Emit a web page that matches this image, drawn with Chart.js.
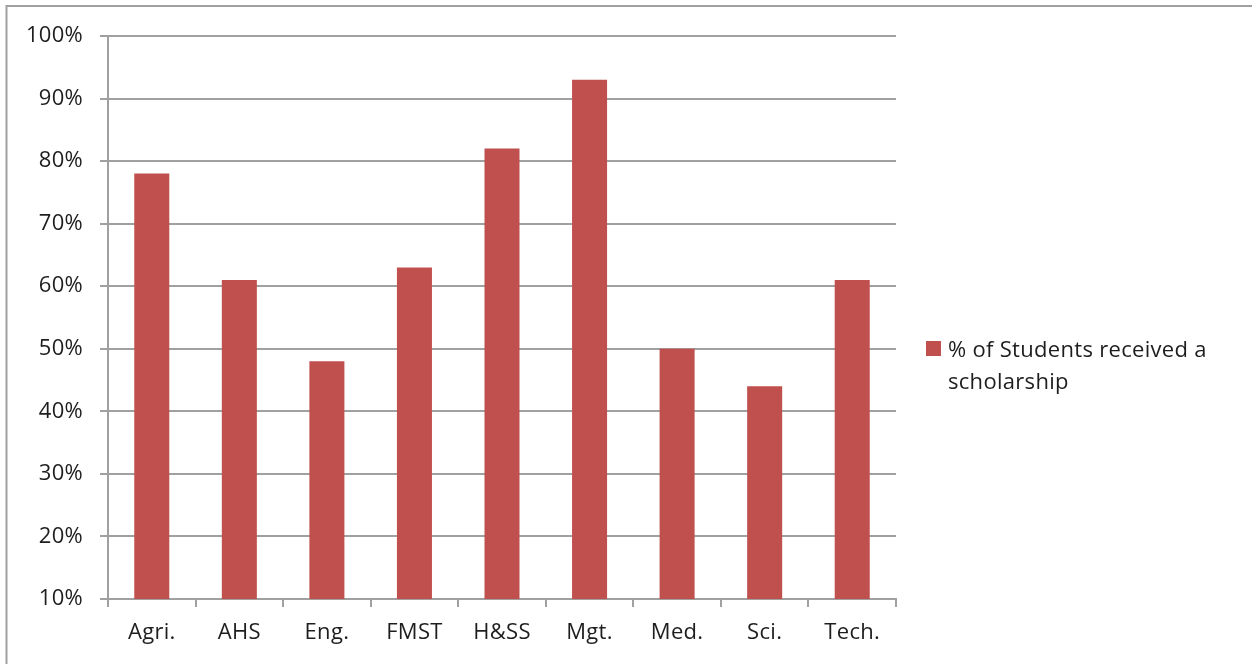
<!DOCTYPE html>
<html>
<head>
<meta charset="utf-8">
<script src="https://cdn.jsdelivr.net/npm/chart.js@4.4.1/dist/chart.umd.min.js"></script>
<style>
  html, body { margin: 0; padding: 0; background: #ffffff; }
  #wrap { position: relative; width: 1252px; height: 664px; }
  canvas { display: block; }
</style>
</head>
<body>
<div id="wrap"><canvas id="c" width="1252" height="664"></canvas></div>
<script>
const categories = ["Agri.", "AHS", "Eng.", "FMST", "H&SS", "Mgt.", "Med.", "Sci.", "Tech."];
const scholarshipPct = [78, 61, 48, 63, 82, 93, 50, 44, 61];
const seriesLabel = "% of Students received a scholarship";
const legendLines = ["% of Students received a", "scholarship"];
const yMin = 10, yMax = 100, yStep = 10;

const FONT = "'Open Sans', 'Noto Sans', sans-serif";
const FSIZE = 22;
const SPACING = '0.3px';
const GRID = "#a0a0a0";
const BAR = "#C0504D";
const TEXT = "#1e1e1e";

const framePlugin = {
  id: 'frame',
  beforeDraw(chart) {
    const ctx = chart.ctx;
    ctx.save();
    ctx.fillStyle = '#ffffff';
    ctx.fillRect(0, 0, chart.width, chart.height);
    ctx.strokeStyle = GRID;
    ctx.lineWidth = 2;
    ctx.beginPath();
    ctx.moveTo(6.5, chart.height + 5);
    ctx.lineTo(6.5, 6);
    ctx.lineTo(chart.width + 5, 6);
    ctx.stroke();
    ctx.restore();
    ctx.letterSpacing = SPACING;
  }
};

const sideLegend = {
  id: 'sideLegend',
  afterDraw(chart) {
    const ctx = chart.ctx;
    const ds = chart.data.datasets[0];
    ctx.save();
    ctx.fillStyle = ds.backgroundColor;
    ctx.fillRect(926, 341, 15, 15);
    ctx.fillStyle = TEXT;
    ctx.font = FSIZE + 'px ' + FONT;
    ctx.letterSpacing = SPACING;
    ctx.textBaseline = 'alphabetic';
    ctx.textAlign = 'left';
    ctx.fillText(legendLines[0], 948, 357);
    ctx.fillText(legendLines[1], 948, 389);
    ctx.restore();
  }
};

new Chart(document.getElementById('c'), {
  type: 'bar',
  data: {
    labels: categories,
    datasets: [{
      label: seriesLabel,
      data: scholarshipPct,
      backgroundColor: BAR,
      borderWidth: 0,
      categoryPercentage: 1.0,
      barPercentage: 0.4
    }]
  },
  options: {
    responsive: false,
    animation: false,
    devicePixelRatio: 1,
    layout: { padding: { left: 0, top: 36, right: 356, bottom: 0 } },
    plugins: {
      legend: { display: false },
      tooltip: { enabled: false }
    },
    scales: {
      x: {
        grid: {
          offset: true,
          drawOnChartArea: false,
          drawTicks: true,
          tickLength: 8,
          color: GRID,
          lineWidth: 2
        },
        border: { color: GRID, width: 2 },
        ticks: {
          color: TEXT,
          font: { family: FONT, size: FSIZE },
          padding: 13,
          maxRotation: 0
        },
        afterFit(scale) { scale.height = 65; }
      },
      y: {
        min: yMin,
        max: yMax,
        grid: {
          color: GRID,
          lineWidth: 2,
          tickLength: 8,
          drawTicks: true
        },
        border: { color: GRID, width: 2 },
        ticks: {
          stepSize: yStep,
          color: TEXT,
          font: { family: FONT, size: FSIZE },
          padding: 17,
          callback: v => v + '%'
        },
        afterFit(scale) { scale.width = 108; }
      }
    }
  },
  plugins: [framePlugin, sideLegend]
});
</script>
</body>
</html>
